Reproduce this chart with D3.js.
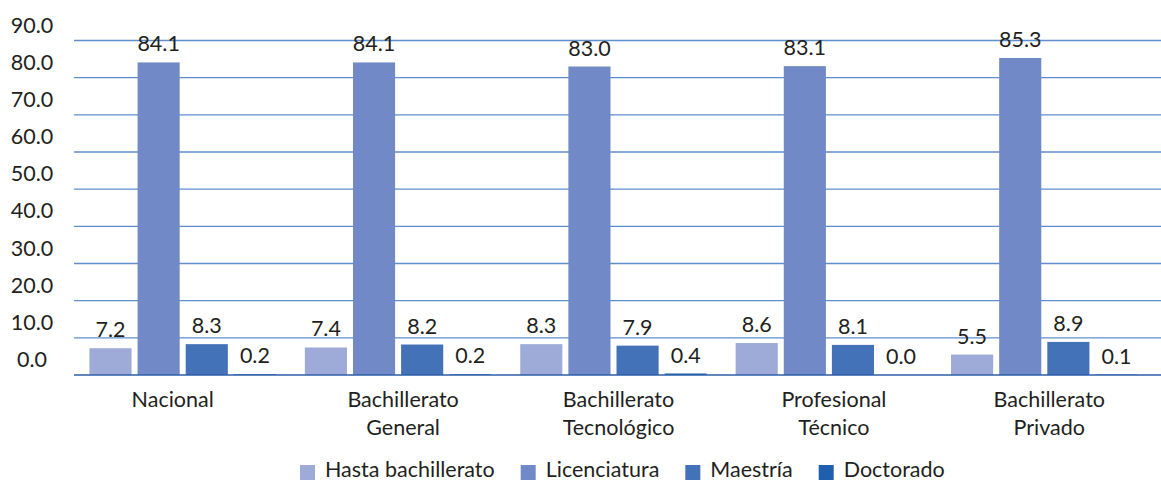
<!DOCTYPE html>
<html>
<head>
<meta charset="utf-8">
<script src="https://cdn.jsdelivr.net/npm/d3@7"></script>
<style>
  body { margin: 0; background: #fff; }
  svg text { font-family: Lato, "Open Sans", sans-serif; fill: #231f20; }
</style>
</head>
<body>
<svg id="chart" width="1161" height="482"></svg>
<script>
// data
var categories = ["Nacional", "Bachillerato General", "Bachillerato Tecnológico", "Profesional Técnico", "Bachillerato Privado"];
var seriesNames = ["Hasta bachillerato", "Licenciatura", "Maestría", "Doctorado"];
var hasta = [7.2, 7.4, 8.3, 8.6, 5.5];
var licenciatura = [84.1, 84.1, 83.0, 83.1, 85.3];
var maestria = [8.3, 8.2, 7.9, 8.1, 8.9];
var doctorado = [0.2, 0.2, 0.4, 0.0, 0.1];
var yTicks = [0, 10, 20, 30, 40, 50, 60, 70, 80, 90];

var colors = ["#9eabd8", "#7189c6", "#4472b8", "#1f5fad"];
var allSeries = [hasta, licenciatura, maestria, doctorado];

var svg = d3.select("#chart");
var fs = 21.5;

var x0 = d3.scaleBand().domain(categories).range([75, 1152]);
var x1 = d3.scaleBand().domain(seriesNames).range([0, x0.bandwidth()])
    .paddingInner(0.125).paddingOuter(0.3);
var y = d3.scaleLinear().domain([0, 90]).range([375, 40.5]);

// gridlines
svg.append("g").selectAll("line")
  .data(yTicks.filter(function(d) { return d > 0; }))
  .enter().append("line")
    .attr("x1", 74).attr("x2", 1161)
    .attr("y1", function(d) { return y(d); })
    .attr("y2", function(d) { return y(d); })
    .attr("stroke", "#5f8fcd")
    .attr("stroke-width", 1.3);

// y labels (sit above their lines like in the original)
svg.append("g").selectAll("text")
  .data(yTicks)
  .enter().append("text")
    .attr("x", 32)
    .attr("y", function(d) { return y(d) - 8; })
    .attr("text-anchor", "middle")
    .style("font-size", fs + "px")
    .text(function(d) { return d3.format(".1f")(d); });

// bars
var rows = [];
categories.forEach(function(c, i) {
  seriesNames.forEach(function(s, j) {
    rows.push({cat: c, ser: s, v: allSeries[j][i], col: colors[j]});
  });
});

var g = svg.append("g");
g.selectAll("rect")
  .data(rows)
  .enter().append("rect")
    .attr("x", function(d) { return x0(d.cat) + x1(d.ser); })
    .attr("y", function(d) { return y(d.v); })
    .attr("width", x1.bandwidth())
    .attr("height", function(d) { return y(0) - y(d.v); })
    .attr("fill", function(d) { return d.col; });

g.selectAll("text")
  .data(rows)
  .enter().append("text")
    .attr("x", function(d) { return x0(d.cat) + x1(d.ser) + x1.bandwidth() / 2; })
    .attr("y", function(d) { return y(d.v) - 11; })
    .attr("text-anchor", "middle")
    .style("font-size", fs + "px")
    .text(function(d) { return d3.format(".1f")(d.v); });

// baseline
svg.append("line")
  .attr("x1", 74).attr("x2", 1161)
  .attr("y1", y(0)).attr("y2", y(0))
  .attr("stroke", "#2e5ea8")
  .attr("stroke-width", 1.5);

// category labels, two lines
var cl = svg.append("g").selectAll("text")
  .data(categories)
  .enter().append("text")
    .attr("text-anchor", "middle")
    .style("font-size", fs + "px");
cl.each(function(c, i) {
  var t = d3.select(this);
  var cx = x0(c) + x0.bandwidth() / 2 + (i == 0 ? -10 : 5);
  c.split(" ").forEach(function(w, k) {
    t.append("tspan").attr("x", cx).attr("y", 407 + k * 28).text(w);
  });
});

// legend
var lg = svg.append("g");
var lx = 300;
seriesNames.forEach(function(s, j) {
  lg.append("rect").attr("x", lx).attr("y", 465).attr("width", 15).attr("height", 15).attr("fill", colors[j]);
  var t = lg.append("text").attr("x", lx + 25).attr("y", 477)
    .style("font-size", fs + "px").text(s);
  lx += 25 + t.node().getComputedTextLength() + 26;
});
</script>
</body>
</html>
